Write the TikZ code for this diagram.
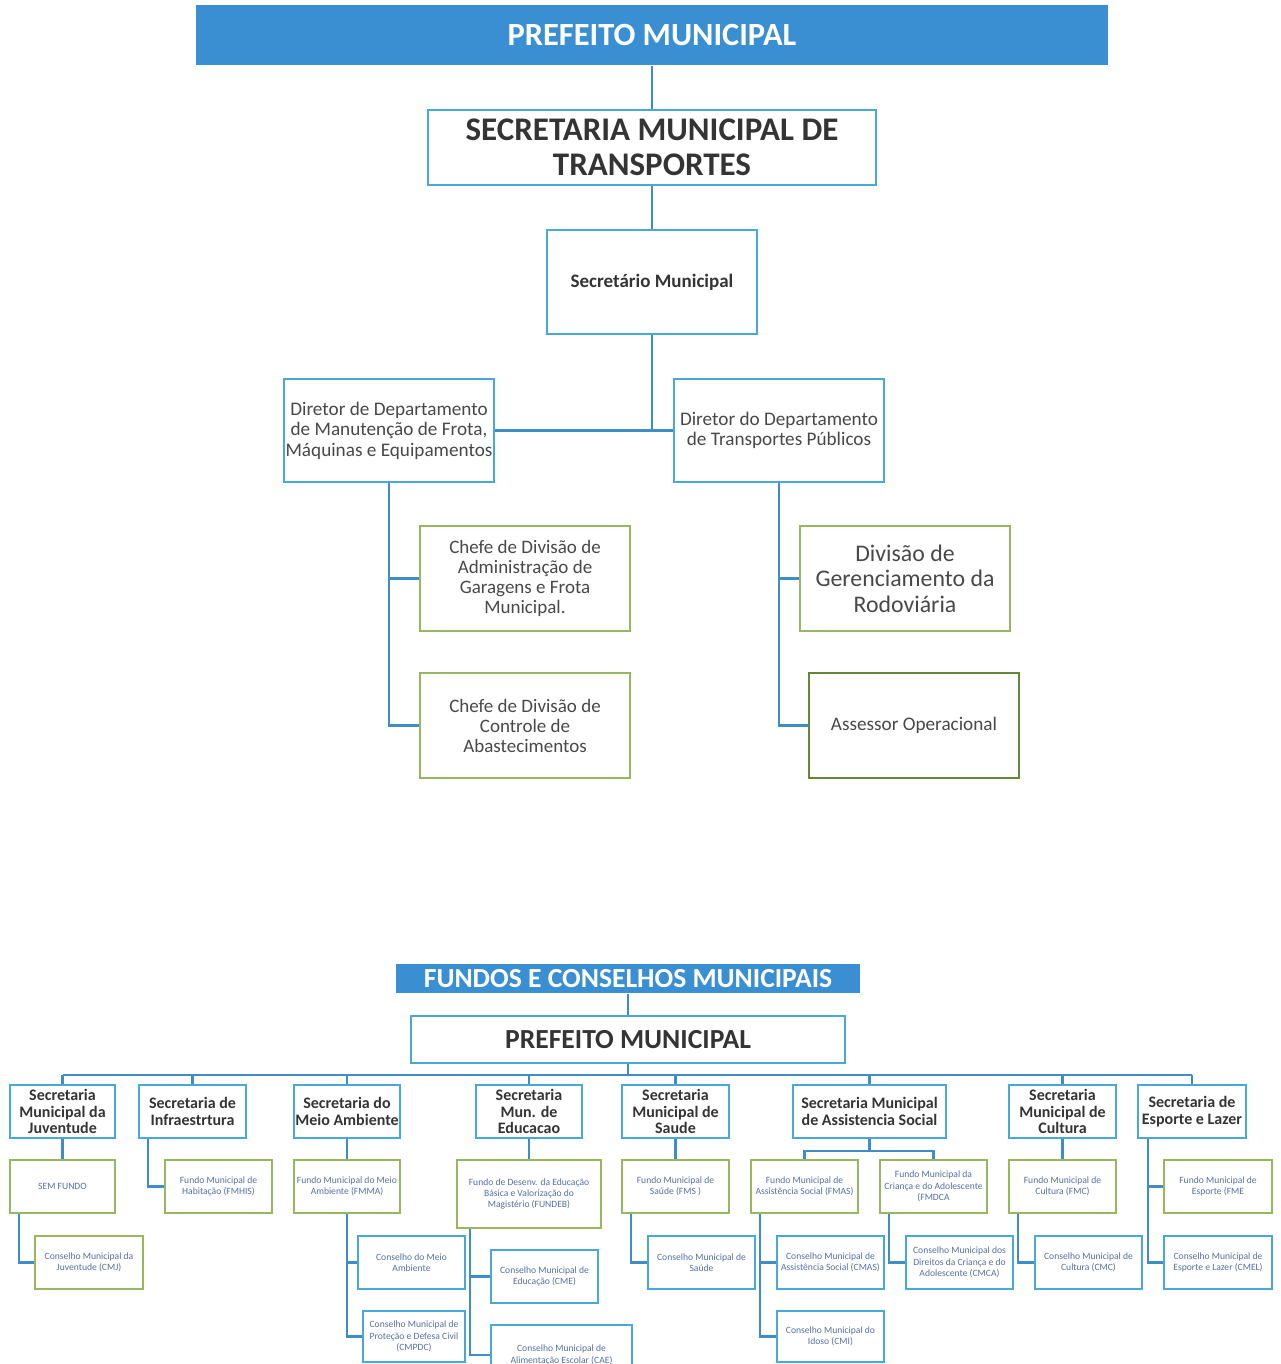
\documentclass[tikz,border=0pt]{standalone}
\usepackage{fontspec}
\usetikzlibrary{calc}
\setmainfont{Carlito}
\definecolor{hdrblue}{RGB}{58,143,211}
\definecolor{boxblue}{RGB}{72,168,216}
\definecolor{lineblue}{RGB}{62,140,200}
\definecolor{boxgreen}{RGB}{150,182,96}
\definecolor{darkgreen}{RGB}{104,134,56}
\definecolor{txtgray}{RGB}{72,72,72}
\definecolor{txtdark}{RGB}{52,52,52}
\definecolor{smalltxt}{RGB}{86,112,160}
\tikzset{
  base/.style={inner sep=0pt, align=center, fill=white, line width=1pt},
  hdr/.style={base, fill=hdrblue, text=white, font=\bfseries\fontsize{16.2}{18}\selectfont},
  bluebox/.style={base, draw=boxblue, text=txtgray},
  greenbox/.style={base, draw=boxgreen, text=txtgray},
  mainfont/.style={font=\fontsize{9.6}{10.3}\selectfont},
  secfont/.style={font=\bfseries\fontsize{8}{8.3}\selectfont, text=txtdark},
  smallfont/.style={font=\fontsize{4.8}{5.6}\selectfont, text=smalltxt},
  conn/.style={draw=lineblue, line width=1.1pt},
}
% box given by its corners in pixel units: name, x1, y1, x2, y2, style, text
\newcommand\bx[7]{%
  \node[#6, minimum width={(#4-#2)*0.5pt}, minimum height={(#5-#3)*0.5pt}]
    (#1) at ({(#2+#4)/2},{(#3+#5)/2}) {#7};}
\begin{document}
\begin{tikzpicture}[x=0.5pt, y=-0.5pt]
\clip (0,0) rectangle (1280,1364);
\fill[white] (0,0) rectangle (1280,1364);

% ---------- Secretaria Municipal de Transportes ----------
\bx{hdr}{196}{5}{1108}{65}{hdr}{PREFEITO MUNICIPAL}
\bx{smt}{428}{110}{876}{185}{bluebox, text=txtdark, font=\bfseries\fontsize{16.5}{17.5}\selectfont}{SECRETARIA MUNICIPAL DE\\TRANSPORTES}
\bx{sm}{547}{230}{757}{334}{bluebox, text=txtdark, font=\bfseries\fontsize{9.5}{10}\selectfont}{Secretário Municipal}
\bx{dl}{284}{379}{494}{482}{bluebox, mainfont}{Diretor de Departamento\\de Manutenção de Frota,\\Máquinas e Equipamentos}
\bx{dr}{674}{379}{884}{482}{bluebox, mainfont}{Diretor do Departamento\\de Transportes Públicos}
\bx{c1}{420}{526}{630}{631}{greenbox, font=\fontsize{9.5}{10}\selectfont}{Chefe de Divisão de\\Administração de\\Garagens e Frota\\Municipal.}
\bx{c2}{420}{673}{630}{778}{greenbox, font=\fontsize{9.5}{10}\selectfont}{Chefe de Divisão de\\Controle de\\Abastecimentos}
\bx{c3}{800}{526}{1010}{631}{greenbox, font=\fontsize{11.9}{12.75}\selectfont}{Divisão de\\Gerenciamento da\\Rodoviária}
\bx{c4}{809}{673}{1019}{778}{greenbox, draw=darkgreen, mainfont}{Assessor Operacional}

\draw[conn] (hdr.south) -- (smt.north);
\draw[conn] (smt.south) -- (sm.north);
\draw[conn] (sm.south) -- (sm.south |- dl.east);
\draw[conn] (dl.east) -- (dr.west);
\draw[conn] (dl.south) |- (c1.west);
\draw[conn] (dl.south) |- (c2.west);
\draw[conn] (dr.south) |- (c3.west);
\draw[conn] (dr.south) |- (c4.west);

% ---------- Fundos e Conselhos Municipais ----------
\bx{hdr2}{396}{964}{860}{993}{hdr, font=\bfseries\fontsize{13.8}{15}\selectfont}{FUNDOS E CONSELHOS MUNICIPAIS}
\bx{pm}{411}{1016}{845}{1063}{bluebox, text=txtdark, font=\bfseries\fontsize{13.8}{15}\selectfont}{PREFEITO MUNICIPAL}
\coordinate (bus) at (628,1075);

% secretarias
\bx{s1}{10}{1085}{115}{1138}{bluebox, secfont}{Secretaria\\Municipal da\\Juventude}
\bx{s2}{139}{1085}{246}{1138}{bluebox, secfont}{Secretaria de\\Infraestrtura}
\bx{s3}{294}{1085}{400}{1138}{bluebox, secfont}{Secretaria do\\Meio Ambiente}
\bx{s4}{476}{1085}{582}{1138}{bluebox, secfont}{Secretaria\\Mun. de\\Educacao}
\bx{s5}{622}{1085}{729}{1138}{bluebox, secfont}{Secretaria\\Municipal de\\Saude}
\bx{s6}{793}{1085}{946}{1138}{bluebox, secfont}{Secretaria Municipal\\de Assistencia Social}
\bx{s7}{1009}{1085}{1116}{1138}{bluebox, secfont}{Secretaria\\Municipal de\\Cultura}
\bx{s8}{1138}{1085}{1246}{1138}{bluebox, secfont}{Secretaria de\\Esporte e Lazer}

% fundos
\bx{f1}{10}{1160}{115}{1213}{greenbox, smallfont}{SEM FUNDO}
\bx{f2}{165}{1160}{272}{1213}{greenbox, smallfont}{Fundo Municipal de\\Habitação (FMHIS)}
\bx{f3}{294}{1160}{400}{1213}{greenbox, smallfont}{Fundo Municipal do Meio\\Ambiente (FMMA)}
\bx{f4}{457}{1160}{601}{1228}{greenbox, smallfont}{Fundo de Desenv. da Educação\\Básica e Valorização do\\Magistério (FUNDEB)}
\bx{f5}{622}{1160}{729}{1213}{greenbox, smallfont}{Fundo Municipal de\\Saúde (FMS )}
\bx{f6a}{751}{1160}{858}{1213}{greenbox, smallfont}{Fundo Municipal de\\Assistência Social (FMAS)}
\bx{f6b}{880}{1160}{987}{1213}{greenbox, smallfont}{Fundo Municipal da\\Criança e do Adolescente\\(FMDCA}
\bx{f7}{1009}{1160}{1116}{1213}{greenbox, smallfont}{Fundo Municipal de\\Cultura (FMC)}
\bx{f8}{1164}{1160}{1272}{1213}{greenbox, smallfont}{Fundo Municipal de\\Esporte (FME}

% conselhos
\bx{k1}{35}{1236}{143}{1289}{greenbox, smallfont}{Conselho Municipal da\\Juventude (CMJ)}
\bx{k3a}{358}{1236}{465}{1289}{bluebox, smallfont}{Conselho do Meio\\Ambiente}
\bx{k3b}{363}{1311}{465}{1362}{bluebox, smallfont}{Conselho Municipal de\\Proteção e Defesa Civil\\(CMPDC)}
\bx{k4a}{491}{1250}{598}{1303}{bluebox, smallfont}{Conselho Municipal de\\Educação (CME)}
\bx{k4b}{491}{1325}{632}{1385}{bluebox, smallfont}{Conselho Municipal de\\Alimentação Escolar (CAE)}
\bx{k5}{648}{1236}{755}{1289}{bluebox, smallfont}{Conselho Municipal de\\Saúde}
\bx{k6a}{777}{1236}{884}{1289}{bluebox, smallfont}{Conselho Municipal de\\Assistência Social (CMAS)}
\bx{k6b}{777}{1311}{884}{1362}{bluebox, smallfont}{Conselho Municipal do\\Idoso (CMI)}
\bx{k6c}{906}{1236}{1013}{1289}{bluebox, smallfont}{Conselho Municipal dos\\Direitos da Criança e do\\Adolescente (CMCA)}
\bx{k7}{1035}{1236}{1142}{1289}{bluebox, smallfont}{Conselho Municipal de\\Cultura (CMC)}
\bx{k8}{1164}{1236}{1272}{1289}{bluebox, smallfont}{Conselho Municipal de\\Esporte e Lazer (CMEL)}

% connectors
\draw[conn] (hdr2.south) -- (pm.north);
\draw[conn] (pm.south) -- (bus);
\draw[conn] (s1.north |- bus) -- (s8.north |- bus);
\foreach \s in {s1,s2,s3,s4,s5,s6,s7,s8}
  \draw[conn] (\s.north |- bus) -- (\s.north);

\draw[conn] (s1.south) -- (f1.north);
\draw[conn] ([xshift=5pt]f1.south west) |- (k1.west);
\draw[conn] ([xshift=5pt]s2.south west) |- (f2.west);
\draw[conn] (s3.south) -- (f3.north);
\draw[conn] (f3.south) |- (k3a.west);
\draw[conn] (f3.south) |- (k3b.west);
\draw[conn] (s4.south) -- (f4.north);
\draw[conn] ([xshift=7pt]f4.south west) |- (k4a.west);
\draw[conn] ([xshift=7pt]f4.south west) |- (k4b.west);
\draw[conn] (s5.south) -- (f5.north);
\draw[conn] ([xshift=5pt]f5.south west) |- (k5.west);
\coordinate (aj) at ($(s6.south)+(0,12)$);
\draw[conn] (s6.south) -- (aj);
\draw[conn] (f6a.north) |- (aj) -| (f6b.north);
\draw[conn] ([xshift=5pt]f6a.south west) |- (k6a.west);
\draw[conn] ([xshift=5pt]f6a.south west) |- (k6b.west);
\draw[conn] ([xshift=5pt]f6b.south west) |- (k6c.west);
\draw[conn] (s7.south) -- (f7.north);
\draw[conn] ([xshift=5pt]f7.south west) |- (k7.west);
\draw[conn] ([xshift=5.5pt]s8.south west) |- (f8.west);
\draw[conn] ([xshift=5.5pt]s8.south west) |- (k8.west);
\end{tikzpicture}
\end{document}
